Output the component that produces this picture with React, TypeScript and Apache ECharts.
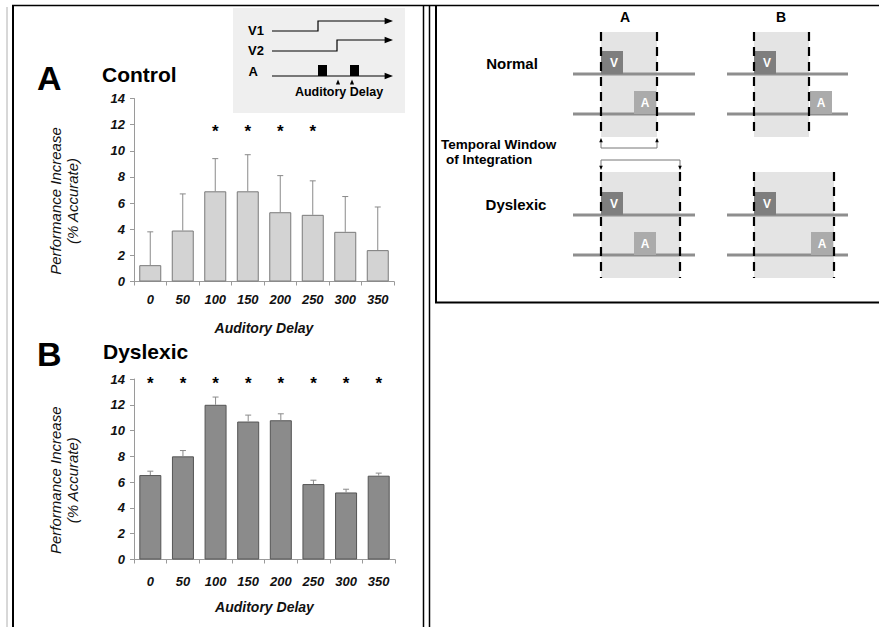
import React, { useEffect, useRef } from "react";
import * as echarts from "echarts";

const delays = ["0", "50", "100", "150", "200", "250", "300", "350"];
const controlMeans = [1.25, 3.9, 6.9, 6.9, 5.3, 5.1, 3.8, 2.4];
const controlUpper = [3.8, 6.7, 9.4, 9.7, 8.1, 7.7, 6.5, 5.7];
const controlSig = [0, 0, 1, 1, 1, 1, 0, 0];
const dyslexicMeans = [6.55, 8.0, 12.0, 10.7, 10.8, 5.85, 5.2, 6.5];
const dyslexicUpper = [6.85, 8.45, 12.6, 11.2, 11.3, 6.15, 5.45, 6.7];
const dyslexicSig = [1, 1, 1, 1, 1, 1, 1, 1];
const controlStarLevel = 11.8;
const dyslexicStarLevel = 14;
const yMin = 0;
const yMax = 14;
const yStep = 2;

const FONT = "'Liberation Sans', Arial, Helvetica, sans-serif";

function txt(text: string, x: number, y: number, size: number, opts: any = {}) {
  return {
    type: "text",
    silent: true,
    z: 20,
    style: {
      text,
      x,
      y,
      fill: opts.fill || "#000",
      fontSize: size,
      fontWeight: opts.weight || "bold",
      fontStyle: opts.style || "normal",
      fontFamily: FONT,
      lineHeight: opts.lineHeight,
      textAlign: opts.align || "left",
      textVerticalAlign: "middle",
    },
  };
}

function ln(x1: number, y1: number, x2: number, y2: number, stroke: string, w: number, dash?: number[], z = 10) {
  return {
    type: "line",
    silent: true,
    z,
    shape: { x1, y1, x2, y2 },
    style: { stroke, lineWidth: w, lineDash: dash || null },
  };
}

function tri(cx: number, cy: number, size: number, dir: "up" | "down" | "right") {
  let points: number[][];
  if (dir === "up") points = [[cx, cy - size], [cx - size * 0.6, cy + size * 0.4], [cx + size * 0.6, cy + size * 0.4]];
  else if (dir === "down") points = [[cx, cy + size], [cx - size * 0.6, cy - size * 0.4], [cx + size * 0.6, cy - size * 0.4]];
  else points = [[cx + size, cy], [cx - size * 0.4, cy - size * 0.55], [cx - size * 0.4, cy + size * 0.55]];
  return { type: "polygon", silent: true, z: 15, shape: { points }, style: { fill: "#000" } };
}

function rect(x: number, y: number, w: number, h: number, fill: string, z = 5) {
  return { type: "rect", silent: true, z, shape: { x, y, width: w, height: h }, style: { fill } };
}

function panel(x0: number, x1: number, yTop: number, yBot: number, vX: number, aX: number, base1: number, base2: number, lineL: number, lineR: number) {
  const els: any[] = [];
  els.push(rect(x0, yTop, x1 - x0, yBot - yTop, "#e4e4e4", 5));
  els.push(rect(vX, base1 - 23, 22, 23, "#7e7e7e", 7));
  els.push(rect(aX, base2 - 23, 22, 23, "#ababab", 7));
  els.push(ln(lineL, base1, lineR, base1, "#8e8e8e", 3, undefined, 6));
  els.push(ln(lineL, base2, lineR, base2, "#8e8e8e", 3, undefined, 6));
  els.push(txt("V", vX + 9, base1 - 11, 12, { fill: "#fff" }));
  els.push(txt("A", aX + 11, base2 - 11, 12, { fill: "#fff", align: "center" }));
  els.push(ln(x0, yTop, x0, yBot, "#000", 2.2, [9, 6], 12));
  els.push(ln(x1, yTop, x1, yBot, "#000", 2.2, [9, 6], 12));
  return els;
}

function buildGraphics() {
  const g: any[] = [];
  // frame
  g.push(ln(7, 7, 7, 627, "#b0b0b0", 1));
  g.push(ln(13, 5, 13, 627, "#000", 2));
  g.push(ln(12, 5.5, 879, 5.5, "#000", 1.6));
  g.push(ln(423.5, 5, 423.5, 627, "#000", 1.5));
  g.push(ln(429.5, 5, 429.5, 627, "#000", 1.5));
  g.push(ln(436, 5, 436, 303, "#000", 2));
  g.push(ln(435, 302.5, 879, 302.5, "#000", 2));

  // left titles
  g.push(txt("A", 37, 78, 34));
  g.push(txt("Control", 102, 74, 21));
  g.push(txt("B", 37, 354, 34));
  g.push(txt("Dyslexic", 103, 351, 21));

  // inset
  g.push(rect(233, 8, 172, 105, "#efefef", 1));
  g.push(txt("V1", 264, 30, 13, { align: "right" }));
  g.push(txt("V2", 264, 50, 13, { align: "right" }));
  g.push(txt("A", 258, 71, 13, { align: "right" }));
  g.push({ type: "polyline", silent: true, z: 12, shape: { points: [[272, 31], [318, 31], [318, 21], [386, 21]] }, style: { stroke: "#000", lineWidth: 1.2, fill: null } });
  g.push(tri(387, 21, 6, "right"));
  g.push({ type: "polyline", silent: true, z: 12, shape: { points: [[272, 51], [337, 51], [337, 40], [386, 40]] }, style: { stroke: "#000", lineWidth: 1.2, fill: null } });
  g.push(tri(387, 40, 6, "right"));
  g.push(ln(272, 76, 386, 76, "#000", 1.2, undefined, 12));
  g.push(tri(387, 76, 6, "right"));
  g.push(rect(318, 65, 9, 11, "#000", 13));
  g.push(rect(350, 65, 9, 11, "#000", 13));
  g.push(tri(338, 83, 3.5, "up"));
  g.push(tri(352, 83, 3.5, "up"));
  g.push(txt("Auditory Delay", 339, 92, 12.5, { align: "center" }));

  // right panel
  g.push(txt("A", 625, 17, 14, { align: "center" }));
  g.push(txt("B", 781, 17, 14, { align: "center" }));
  g.push(txt("Normal", 512, 63, 15, { align: "center" }));
  g.push(txt("Dyslexic", 516, 204, 15, { align: "center" }));
  g.push(txt("Temporal Window", 441, 144, 13.5));
  g.push(txt("of Integration", 446, 159.5, 13.5));

  g.push(...panel(601, 657, 32, 137, 601, 634, 74, 114, 573, 695));
  g.push(...panel(754, 809, 32, 137, 754, 810, 74, 114, 727, 848));
  g.push(...panel(601, 680, 172, 278, 601, 634, 215, 255, 573, 695));
  g.push(...panel(754, 834, 172, 278, 754, 811, 215, 255, 727, 848));

  // brackets
  g.push(ln(601, 148, 657, 148, "#777", 1, undefined, 12));
  g.push(ln(601, 148, 601, 142, "#777", 1, undefined, 12));
  g.push(ln(657, 148, 657, 142, "#777", 1, undefined, 12));
  g.push(tri(601, 141, 3, "up"));
  g.push(tri(657, 141, 3, "up"));
  g.push(ln(601, 160, 680, 160, "#777", 1, undefined, 12));
  g.push(ln(601, 160, 601, 166, "#777", 1, undefined, 12));
  g.push(ln(680, 160, 680, 166, "#777", 1, undefined, 12));
  g.push(tri(601, 167, 3, "down"));
  g.push(tri(680, 167, 3, "down"));
  return g;
}

function errRender(color: string) {
  return (params: any, api: any) => {
    const x = api.value(0);
    const p0 = api.coord([x, api.value(1)]);
    const p1 = api.coord([x, api.value(2)]);
    return {
      type: "group",
      children: [
        { type: "line", shape: { x1: p0[0], y1: p0[1], x2: p1[0], y2: p1[1] }, style: { stroke: color, lineWidth: 1 } },
        { type: "line", shape: { x1: p1[0] - 3, y1: p1[1], x2: p1[0] + 3, y2: p1[1] }, style: { stroke: color, lineWidth: 1 } },
      ],
    };
  };
}

function starRender(params: any, api: any) {
  const p = api.coord([api.value(0), api.value(1)]);
  return {
    type: "text",
    style: {
      text: "*",
      x: p[0],
      y: p[1] + 4,
      fill: "#000",
      fontSize: 17,
      fontWeight: "bold",
      fontFamily: FONT,
      textAlign: "center",
      textVerticalAlign: "middle",
    },
  };
}

function xAxisCfg(gridIndex: number, labelMargin: number, nameGap: number) {
  return {
    type: "category",
    gridIndex,
    data: delays,
    boundaryGap: true,
    name: "Auditory Delay",
    nameLocation: "middle",
    nameGap,
    nameTextStyle: { fontFamily: FONT, fontSize: 14, fontWeight: "bold", fontStyle: "italic", color: "#111" },
    axisLine: { lineStyle: { color: "#9a9a9a", width: 1 } },
    axisTick: { show: true, length: 4, lineStyle: { color: "#9a9a9a" } },
    axisLabel: { margin: labelMargin, fontFamily: FONT, fontSize: 13, fontWeight: "bold", fontStyle: "italic", color: "#111" },
    splitLine: { show: false },
  };
}

function yAxisCfg(gridIndex: number) {
  return {
    type: "value",
    gridIndex,
    min: yMin,
    max: yMax,
    interval: yStep,
    name: "Performance Increase\n(% Accurate)",
    nameLocation: "middle",
    nameRotate: 90,
    nameGap: 53,
    nameTextStyle: { fontFamily: FONT, fontSize: 15, fontStyle: "italic", color: "#111", lineHeight: 17, align: "center", padding: [0, 22, 0, 0] },
    axisLine: { show: true, lineStyle: { color: "#9a9a9a", width: 1 } },
    axisTick: { show: true, length: 4, lineStyle: { color: "#9a9a9a" } },
    axisLabel: { margin: 9, fontFamily: FONT, fontSize: 13, fontWeight: "bold", fontStyle: "italic", color: "#111" },
    splitLine: { show: false },
  };
}

export default function App() {
  const ref = useRef<HTMLDivElement>(null);
  useEffect(() => {
    if (!ref.current) return;
    const chart = echarts.init(ref.current, null, { renderer: "svg" });
    const errA = delays.map((_, i) => [i, controlMeans[i], controlUpper[i]]);
    const errB = delays.map((_, i) => [i, dyslexicMeans[i], dyslexicUpper[i]]);
    const starsA = delays.map((_, i) => (controlSig[i] ? [i, controlStarLevel] : null)).filter(Boolean);
    const starsB = delays.map((_, i) => (dyslexicSig[i] ? [i, dyslexicStarLevel] : null)).filter(Boolean);
    chart.setOption({
      animation: false,
      backgroundColor: "#fff",
      grid: [
        { left: 134, top: 98.5, width: 260, height: 183 },
        { left: 134, top: 379, width: 261, height: 180.5 },
      ],
      xAxis: [xAxisCfg(0, 11, 39), xAxisCfg(1, 15, 40)],
      yAxis: [yAxisCfg(0), yAxisCfg(1)],
      series: [
        {
          type: "bar",
          xAxisIndex: 0,
          yAxisIndex: 0,
          data: controlMeans,
          barWidth: 22,
          itemStyle: { color: "#d3d3d3", borderColor: "#7a7a7a", borderWidth: 1 },
        },
        {
          type: "custom",
          xAxisIndex: 0,
          yAxisIndex: 0,
          data: errA,
          encode: { x: 0, y: [1, 2] },
          renderItem: errRender("#8a8a8a"),
          z: 3,
        },
        {
          type: "custom",
          xAxisIndex: 0,
          yAxisIndex: 0,
          data: starsA,
          encode: { x: 0, y: 1 },
          renderItem: starRender,
          z: 3,
        },
        {
          type: "bar",
          xAxisIndex: 1,
          yAxisIndex: 1,
          data: dyslexicMeans,
          barWidth: 22,
          itemStyle: { color: "#8b8b8b", borderColor: "#555", borderWidth: 1 },
        },
        {
          type: "custom",
          xAxisIndex: 1,
          yAxisIndex: 1,
          data: errB,
          encode: { x: 0, y: [1, 2] },
          renderItem: errRender("#8a8a8a"),
          z: 3,
        },
        {
          type: "custom",
          xAxisIndex: 1,
          yAxisIndex: 1,
          data: starsB,
          encode: { x: 0, y: 1 },
          renderItem: starRender,
          z: 3,
        },
      ],
      graphic: buildGraphics(),
    });
    return () => chart.dispose();
  }, []);
  return <div ref={ref} style={{ position: "absolute", left: 0, top: 0, width: 879, height: 627 }} />;
}
